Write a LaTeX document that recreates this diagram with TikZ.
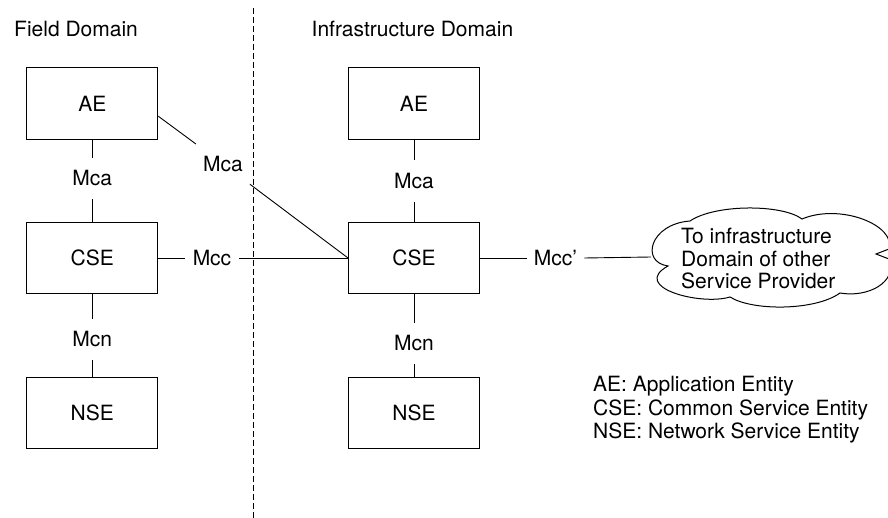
\documentclass[tikz,border=0pt]{standalone}
\usepackage{fontspec}
\setmainfont{TeX Gyre Heros}
\begin{document}
\begin{tikzpicture}[x=1pt,y=-1pt,
  every node/.style={font=\fontsize{21}{22.5}\selectfont},
  ebox/.style={draw,line width=1pt,minimum width=131pt,minimum height=71.5pt,inner sep=0pt},
  lbl/.style={inner xsep=8pt,inner ysep=0pt,minimum height=41pt},
  conn/.style={line width=0.9pt},
  txt/.style={anchor=base west,inner sep=0pt}]
\useasboundingbox (0,0) rectangle (888,518);
% titles
\node[txt] (fd) at (14,36.5) {Field Domain};
\node[txt] (id) at (311.5,36.5) {Infrastructure Domain};
% dashed separator
\draw[line width=0.9pt,dash pattern=on 6pt off 3pt] (253,8) -- (253,518);
% boxes
\node[ebox] (ae1) at (92.3,103.4) {AE};
\node[ebox] (cse1) at (92.3,258) {CSE};
\node[ebox] (nse1) at (92.3,413) {NSE};
\node[ebox] (ae2) at (414,103.4) {AE};
\node[ebox] (cse2) at (414,258) {CSE};
\node[ebox] (nse2) at (414,413) {NSE};
% labels
\node[lbl] (mca1) at (92.3,178.5) {Mca};
\node[lbl] (mcn1) at (92.3,339.5) {Mcn};
\node[lbl] (mca2) at (414,181) {Mca};
\node[lbl] (mcn2) at (414,343.5) {Mcn};
\node[lbl] (mcc) at (212,258) {Mcc};
\node[lbl,inner xsep=7pt] (mccp) at (555.5,258) {Mcc’};
\node[circle,inner sep=0pt,minimum size=67pt] (mcad) at (223,164) {Mca};
% connectors
\draw[conn] (ae1.south) -- (mca1.north);
\draw[conn] (mca1.south) -- (cse1.north);
\draw[conn] (cse1.south) -- (mcn1.north);
\draw[conn] (mcn1.south) -- (nse1.north);
\draw[conn] (ae2.south) -- (mca2.north);
\draw[conn] (mca2.south) -- (cse2.north);
\draw[conn] (cse2.south) -- (mcn2.north);
\draw[conn] (mcn2.south) -- (nse2.north);
\draw[conn] (cse1.east) -- (mcc.west);
\draw[conn] (mcc.east) -- (cse2.west);
\draw[conn] (ae1.-11) -- (mcad);
\draw[conn] (mcad) -- (cse2.west);
% cloud
\draw[line width=1pt]
  (668,266) .. controls (640,262) and (650,224) .. (690,221)
  .. controls (715,204) and (782,204) .. (802,219)
  .. controls (840,203) and (896,225) .. (889,249)
  -- (876,254) -- (889,259)
  .. controls (898,282) and (868,298) .. (840,293)
  .. controls (815,311) and (752,311) .. (730,297)
  .. controls (700,306) and (630,287) .. (668,266) -- cycle;
\coordinate (cl) at (651,257);
\node[anchor=west,align=left,inner sep=0pt] (cloudtxt) at (681,259) {To infrastructure\\Domain of other\\Service Provider};
\draw[conn] (cse2.east) -- (mccp.west);
\draw[conn] (mccp.east) -- (cl);
% legend
\node[txt] (leg1) at (593,391.7) {AE: Application Entity};
\node[txt] (leg2) at (593,415) {CSE: Common Service Entity};
\node[txt] (leg3) at (593,438) {NSE: Network Service Entity};
\end{tikzpicture}
\end{document}
